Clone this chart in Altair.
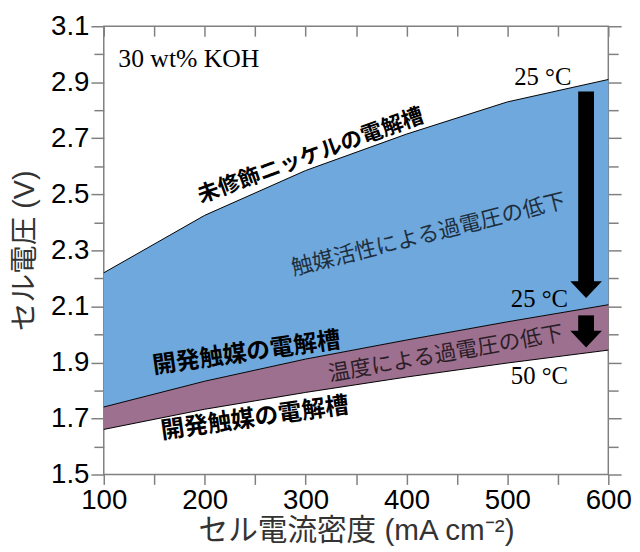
import altair as alt
import pandas as pd

# ---- data ----
current = [100, 200, 300, 400, 500, 600]            # mA cm^-2
v_nickel_25 = [2.22, 2.425, 2.585, 2.715, 2.83, 2.91]  # untreated Ni, 25 C
v_dev_25 = [1.741, 1.833, 1.912, 1.98, 2.045, 2.106]   # developed catalyst, 25 C
v_dev_50 = [1.661, 1.733, 1.793, 1.848, 1.898, 1.944]  # developed catalyst, 50 C

x_domain = [100, 600]
y_domain = [1.5, 3.1]
x_ticks = [100, 150, 200, 250, 300, 350, 400, 450, 500, 550, 600]
y_major = [1.5, 1.7, 1.9, 2.1, 2.3, 2.5, 2.7, 2.9, 3.1]
y_minor = [1.6, 1.8, 2.0, 2.2, 2.4, 2.6, 2.8, 3.0]

# labels (text, x, y, angle)
bold_text = ["未修飾ニッケルの電解槽", "開発触媒の電解槽", "開発触媒の電解槽"]
bold_x = [305, 241.6, 249.7]
bold_y = [2.638, 1.932, 1.699]
bold_angle = [340, 352, 352]
bold_size = [22, 24, 24]

light_text = ["触媒活性による過電圧の低下", "温度による過電圧の低下"]
light_x = [421.8, 438.9]
light_y = [2.356, 1.931]
light_angle = [346, 350]

serif_text = ["30 wt% KOH", "25 °C", "25 °C", "50 °C"]
serif_x = [114.4, 535.1, 531.7, 531.7]
serif_y = [2.953, 2.891, 2.097, 1.824]
serif_align = ["left", "center", "center", "center"]

# arrows
arrow_x = [578, 578]
arrow_y_start = [2.867, 2.068]
arrow_y_end = [2.185, 2.008]
head_y = [2.1596, 1.9833]

BLUE = "#6fa8dc"
PURPLE = "#9d7090"
GRAY = "#808080"

df = pd.DataFrame({"j": current, "top": v_nickel_25, "mid": v_dev_25, "bot": v_dev_50})
lines_df = pd.DataFrame({
    "j": current * 3,
    "v": v_nickel_25 + v_dev_25 + v_dev_50,
    "curve": ["a"] * 6 + ["b"] * 6 + ["c"] * 6,
})

xs = alt.Scale(domain=x_domain, nice=False, zero=False)
ys = alt.Scale(domain=y_domain, nice=False, zero=False)

LABEL_FONT = "Liberation Sans"
TITLE_FONT = "Liberation Sans, Noto Sans CJK JP"

ax_bottom = alt.Axis(orient="bottom", values=x_ticks, tickSize=10,
                     labelExpr="datum.value % 100 === 0 ? datum.label : ''",
                     title="セル電流密度 (mA cm⁻²)", titleFont=TITLE_FONT, titleFontSize=30,
                     titleFontWeight="normal", titleColor="#333333",
                     titleBaseline="alphabetic", titleY=66,
                     labelFont=LABEL_FONT, labelFontSize=28, labelColor="black",
                     labelPadding=2, labelFlush=False, labelOverlap=False, grid=False, domain=False,
                     tickColor=GRAY, tickWidth=1.5)
ax_left = alt.Axis(orient="left", values=y_major, tickSize=13, format=".1f",
                   title="セル電圧 (V)", titleFont=TITLE_FONT, titleFontSize=29,
                   titleFontWeight="normal", titleColor="#333333",
                   titleAngle=270, titleBaseline="middle", titleX=-80, titleY=227,
                   labelFont=LABEL_FONT, labelFontSize=28, labelColor="black",
                   labelPadding=2, labelFlush=False, labelOverlap=False, grid=False, domain=False,
                   tickColor=GRAY, tickWidth=1.5)
ax_left_minor = alt.Axis(orient="left", values=y_minor, tickSize=10, labels=False, title=None,
                         grid=False, domain=False, tickColor=GRAY, tickWidth=1.5)
ax_top = alt.Axis(orient="top", values=x_ticks, tickSize=10, offset=-10, labels=False, title=None,
                  grid=False, domain=False, tickColor=GRAY, tickWidth=1.5)
ax_right = alt.Axis(orient="right", values=y_major, tickSize=13, labels=False, title=None,
                    grid=False, domain=False, tickColor=GRAY, tickWidth=1.5)
ax_right_minor = alt.Axis(orient="right", values=y_minor, tickSize=10, labels=False, title=None,
                          grid=False, domain=False, tickColor=GRAY, tickWidth=1.5)

base = alt.Chart(df)

blue = base.mark_area(color=BLUE, opacity=1).encode(
    x=alt.X("j:Q", scale=xs, axis=ax_bottom),
    y=alt.Y("top:Q", scale=ys, axis=ax_left),
    y2="mid:Q",
)
purple = base.mark_area(color=PURPLE, opacity=1).encode(
    x=alt.X("j:Q", scale=xs, axis=ax_top),
    y=alt.Y("mid:Q", scale=ys, axis=ax_left_minor),
    y2="bot:Q",
)
lines = alt.Chart(lines_df).mark_line(color="black", strokeWidth=1).encode(
    x=alt.X("j:Q", scale=xs, axis=None),
    y=alt.Y("v:Q", scale=ys, axis=ax_right),
    detail="curve:N",
)

shaft_df = pd.DataFrame({"x": arrow_x, "y1": arrow_y_start, "y2": arrow_y_end})
shafts = alt.Chart(shaft_df).mark_rule(color="black", strokeWidth=16, strokeCap="butt").encode(
    x=alt.X("x:Q", scale=xs, axis=None),
    y=alt.Y("y1:Q", scale=ys, axis=ax_right_minor),
    y2="y2:Q",
)
head_df = pd.DataFrame({"x": arrow_x, "y": head_y})
heads = alt.Chart(head_df).mark_point(
    shape="M-1,-0.53L1,-0.53L0,0.53Z", size=1024, filled=True, color="black",
    opacity=1, strokeWidth=0,
).encode(
    x=alt.X("x:Q", scale=xs, axis=None),
    y=alt.Y("y:Q", scale=ys, axis=None),
)

bold_df = pd.DataFrame({"t": bold_text, "x": bold_x, "y": bold_y, "a": bold_angle, "s": bold_size})
bold_labels = alt.Chart(bold_df).mark_text(
    font="Noto Sans CJK JP", fontWeight="bold", color="black", align="center", baseline="middle"
).encode(
    x=alt.X("x:Q", scale=xs, axis=None),
    y=alt.Y("y:Q", scale=ys, axis=None),
    text="t:N",
    angle=alt.Angle("a:Q", scale=None),
    size=alt.Size("s:Q", scale=None, legend=None),
)

light_df = pd.DataFrame({"t": light_text, "x": light_x, "y": light_y, "a": light_angle})
light_labels = alt.Chart(light_df).mark_text(
    font="Noto Sans CJK JP", fontWeight="normal", color="black", opacity=0.72,
    fontSize=22, align="center", baseline="middle"
).encode(
    x=alt.X("x:Q", scale=xs, axis=None),
    y=alt.Y("y:Q", scale=ys, axis=None),
    text="t:N",
    angle=alt.Angle("a:Q", scale=None),
)

serif_df = pd.DataFrame({"t": serif_text, "x": serif_x, "y": serif_y, "al": serif_align})
serif_left = alt.Chart(serif_df[serif_df["al"] == "left"]).mark_text(
    font="Liberation Serif", fontSize=26, color="black", align="left", baseline="alphabetic"
).encode(
    x=alt.X("x:Q", scale=xs, axis=None),
    y=alt.Y("y:Q", scale=ys, axis=None),
    text="t:N",
)
serif_center = alt.Chart(serif_df[serif_df["al"] == "center"]).mark_text(
    font="Liberation Serif", fontSize=25, color="black", align="center", baseline="alphabetic"
).encode(
    x=alt.X("x:Q", scale=xs, axis=None),
    y=alt.Y("y:Q", scale=ys, axis=None),
    text="t:N",
)

chart = alt.layer(
    blue, purple, lines, shafts, heads, bold_labels, light_labels, serif_left, serif_center
).resolve_axis(x="independent", y="independent").properties(
    width=511, height=454,
    autosize=alt.AutoSizeParams(type="none"),
    padding={"left": 97, "top": 15, "right": 24, "bottom": 76},
    background="white",
).configure_view(stroke=GRAY, strokeWidth=1.5)

chart.save("out.html", embed_options={"renderer": "svg", "actions": False})
